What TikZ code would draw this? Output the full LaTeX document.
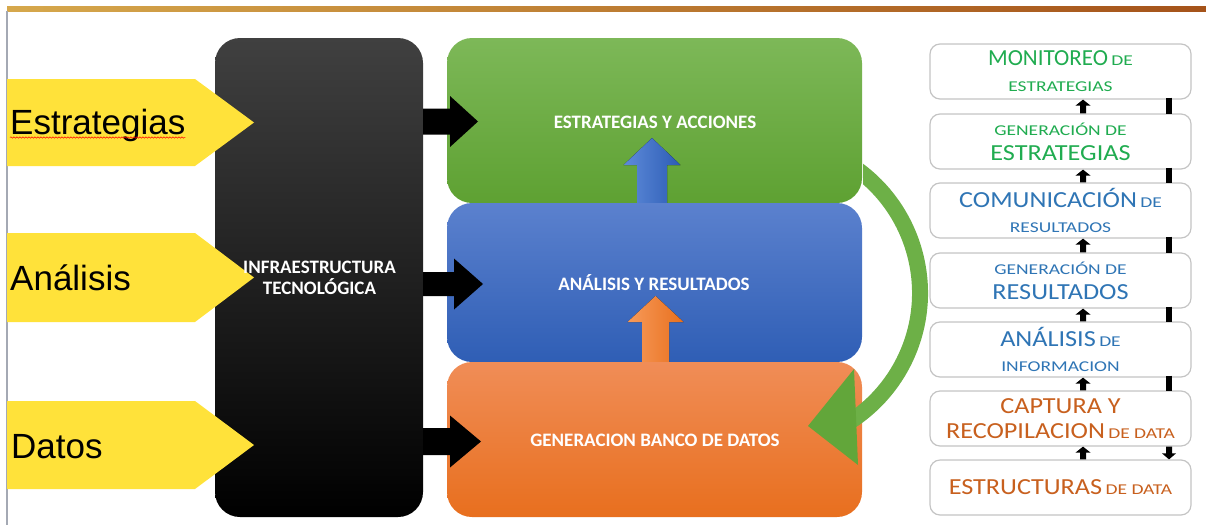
\documentclass[tikz,border=0pt]{standalone}
\usepackage{fontspec}
\setmainfont{Carlito}
\newfontfamily\arialf{Liberation Sans}
\newfontfamily\smf[FakeStretch=1.3]{Carlito}
\newfontfamily\lgf[FakeStretch=1.14]{Carlito}
\usetikzlibrary{calc,decorations.pathmorphing}
\definecolor{barL}{HTML}{D6A84C}
\definecolor{barR}{HTML}{A5531A}
\definecolor{lineG}{HTML}{A4A9B4}
\definecolor{yel}{HTML}{FFE23A}
\definecolor{dgray}{HTML}{404040}
\definecolor{gTop}{HTML}{7DB858}
\definecolor{gBot}{HTML}{5EA132}
\definecolor{bTop}{HTML}{5B81CE}
\definecolor{bBot}{HTML}{2F5EB5}
\definecolor{oTop}{HTML}{F08D57}
\definecolor{oBot}{HTML}{E86F1E}
\definecolor{abL}{HTML}{5E8BD9}
\definecolor{abR}{HTML}{2C5CB5}
\definecolor{aoL}{HTML}{F79A5A}
\definecolor{aoR}{HTML}{E8701E}
\definecolor{cArc}{HTML}{6DB047}
\definecolor{cHead}{HTML}{62A63A}
\definecolor{rgray}{HTML}{C4C4C4}
\definecolor{tG}{HTML}{20AC50}
\definecolor{tB}{HTML}{2F75B5}
\definecolor{tO}{HTML}{C8601E}
\newcommand\Mo{\fontsize{23}{25}\selectfont}
\newcommand\Lg{\lgf\fontsize{23}{25}\selectfont}
\newcommand\Sm{\smf\fontsize{15}{25}\selectfont}
% block arrow: [style]{from}{to}{shaft half}{head half}{head length}
\newcommand\barrow[6][]{%
  \coordinate (bA) at (#2); \coordinate (bB) at (#3);
  \coordinate (bC) at ($(bB)!#6!(bA)$);
  \fill[#1] ($(bA)!#4!90:(bB)$) -- ($(bC)!#4!-90:(bA)$) -- ($(bC)!#5!-90:(bA)$)
    -- (bB) -- ($(bC)!#5!90:(bA)$) -- ($(bC)!#4!90:(bA)$) -- ($(bA)!#4!-90:(bB)$) -- cycle;}
\tikzset{
  cbox/.style={rounded corners=25pt, minimum width=415pt, inner sep=0pt},
  ctext/.style={text=white, inner sep=0pt, font=\bfseries\fontsize{19}{21}\selectfont},
  rbox/.style={draw=rgray, line width=1.2pt, fill=white, rounded corners=10pt,
    minimum width=261pt, minimum height=55pt, inner sep=0pt, align=center,
    font=\fontsize{15}{25}\selectfont},
  ylab/.style={anchor=base west, inner sep=0pt, font=\arialf\fontsize{35}{40}\selectfont},
  ybox/.style={fill=yel},
  rbar/.style={line width=6pt},
}
\begin{document}
\begin{tikzpicture}[x=1pt,y=-1pt]
\useasboundingbox (0,0) rectangle (1206,525);
% top bar and left rule
\shade[left color=barL, right color=barR] (7,6) rectangle (1206,11);
\draw[lineG, line width=1.5pt] (7,11) -- (7,525);

% infrastructure block
\node[rounded corners=25pt, minimum width=208pt, minimum height=479pt, inner sep=0pt,
  top color=dgray, middle color=black, bottom color=black] (infra) at (319,277.5) {};

% yellow pentagons
\fill[ybox] (7,79) -- (195,79) -- (254,122.5) -- (195,166) -- (7,166) -- cycle;
\fill[ybox] (7,233) -- (195,233) -- (254,277.5) -- (195,322) -- (7,322) -- cycle;
\fill[ybox] (7,401) -- (195,401) -- (254,445) -- (195,489) -- (7,489) -- cycle;
\node[ylab] (lest) at (10,134) {Estrategias};
\node[ylab] (lana) at (10,290) {Análisis};
\node[ylab] (ldat) at (11,458) {Datos};
\draw[red, line width=0.5pt, decorate, decoration={snake, amplitude=0.7pt, segment length=3pt}]
  ([yshift=-3.5pt]lest.base west) -- ([yshift=-3.5pt]lest.base east);

\node[ctext, align=center, font=\bfseries\fontsize{19}{21}\selectfont]
  (infratxt) at (319.5,277.5) {INFRAESTRUCTURA\\TECNOLÓGICA};

% colored boxes
\node[cbox, minimum height=165pt, top color=gTop, bottom color=gBot] (gbox) at (654.5,120.5) {};
\node[cbox, minimum height=159pt, top color=bTop, bottom color=bBot] (bbox) at (654.5,282.5) {};
\node[cbox, minimum height=155pt, top color=oTop, bottom color=oBot] (obox) at (654.5,439.5) {};
\node[ctext] (gtxt) at (655,122) {ESTRATEGIAS Y ACCIONES};
\node[ctext] (btxt) at (654,283) {ANÁLISIS Y RESULTADOS};
\node[ctext] (otxt) at (655,440) {GENERACION BANCO DE DATOS};

% up arrows between colored boxes
\barrow[left color=abL, right color=abR]{bbox.north -| 652,0}{652,138}{15pt}{28.5pt}{27pt}
\barrow[left color=aoL, right color=aoR]{obox.north -| 655.5,0}{655.5,296}{13.5pt}{28pt}{26pt}

% black arrows from infrastructure
\barrow[black]{infra.east |- 0,121.5}{478,121.5}{13pt}{25.5pt}{28pt}
\barrow[black]{infra.east |- 0,284}{483,284}{12pt}{25.5pt}{29pt}
\barrow[black]{infra.east |- 0,441.5}{481,441.5}{13.5pt}{26pt}{31pt}

% green curved arrow
\begin{scope}
  \clip (863,100) -- (945,100) -- (945,480) -- (820,480) -- (820,330) -- (863,330) -- cycle;
  \draw[cArc, line width=16pt] ([shift={(-62:153)}]767,293) arc[start angle=-62, end angle=57, radius=153];
\end{scope}
\fill[cHead] (808,426) -- (854,369) -- (858,465) -- cycle;

% right column
\node[rbox] (r1) at (1060.5,71.5) {\color{tG}{\Mo MONITOREO} {\Sm DE}\\[1pt]\color{tG}\Sm ESTRATEGIAS};
\node[rbox] (r2) at (1060.5,141.5) {\color{tG}\Sm GENERACIÓN DE\\\color{tG}\Lg ESTRATEGIAS};
\node[rbox] (r3) at (1060.5,210.5) {\color{tB}{\Lg COMUNICACIÓN} {\Sm DE}\\\color{tB}\Sm RESULTADOS};
\node[rbox] (r4) at (1060.5,280.5) {\color{tB}\Sm GENERACIÓN DE\\\color{tB}\Lg RESULTADOS};
\node[rbox] (r5) at (1060.5,349.5) {\color{tB}{\Lg ANÁLISIS} {\Sm DE}\\\color{tB}\Sm INFORMACION};
\node[rbox] (r6) at (1060.5,418.5) {\color{tO}\Lg CAPTURA Y\\\color{tO}{\Lg RECOPILACION} {\Sm DE DATA}};
\node[rbox] (r7) at (1060.5,487.5) {\color{tO}{\Lg ESTRUCTURAS} {\Sm DE DATA}};

\foreach \lo/\hi in {r2/r1, r3/r2, r4/r3, r5/r4, r6/r5, r7/r6} {
  \barrow[black]{\lo.north -| 1083,0}{\hi.south -| 1083,0}{3pt}{7.5pt}{6pt}
}
\foreach \hi/\lo in {r1/r2, r2/r3, r3/r4, r4/r5, r5/r6} {
  \draw[rbar] ([yshift=2pt]\hi.south -| 1169,0) -- ([yshift=-1pt]\lo.north -| 1169,0);
}
\barrow[black]{r6.south -| 1169,0}{r7.north -| 1169,0}{3pt}{7pt}{6pt}
\end{tikzpicture}
\end{document}
